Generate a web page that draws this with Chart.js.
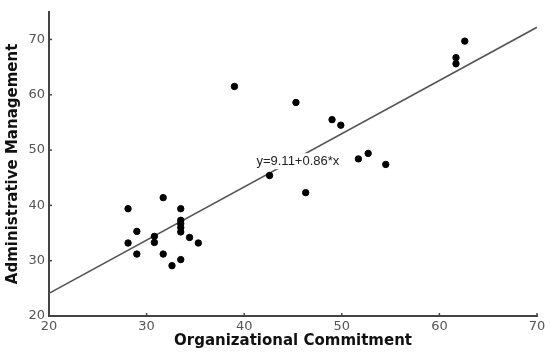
<!DOCTYPE html>
<html>
<head>
<meta charset="utf-8">
<script src="https://cdn.jsdelivr.net/npm/chart.js@4"></script>
<style>
  html, body { margin: 0; padding: 0; background: #fff; }
  #wrap { width: 550px; height: 354px; }
</style>
</head>
<body>
<div id="wrap"><canvas id="scatterChart"></canvas></div>
<script>
// values
const commitment = [28.1, 31.7, 33.5, 33.5, 33.5, 33.5, 33.5, 29.0, 30.8, 30.8, 28.1, 34.4, 35.3, 29.0, 31.7, 32.6, 33.5,
                    39.0, 45.3, 49.0, 49.9, 42.6, 46.3, 51.7, 52.7, 54.5, 62.6, 61.7, 61.7];
const management = [39.4, 41.4, 39.4, 37.3, 36.7, 36.0, 35.2, 35.3, 34.4, 33.3, 33.2, 34.2, 33.2, 31.2, 31.2, 29.1, 30.2,
                    61.5, 58.6, 55.5, 54.5, 45.4, 42.3, 48.4, 49.4, 47.4, 69.7, 66.7, 65.6];
// fitted line as drawn (end points)
const fitX = [20, 70];
const fitY = [24.1, 72.2];
const xTicks = [20, 30, 40, 50, 60, 70];
const yTicks = [20, 30, 40, 50, 60, 70];
const equation = 'y=9.11+0.86*x';

// small inward tick marks + equation label
const extras = {
  id: 'extras',
  afterDatasetsDraw(chart) {
    const ctx = chart.ctx;
    const xs = chart.scales.x, ys = chart.scales.y;
    ctx.save();
    ctx.strokeStyle = '#444';
    ctx.lineWidth = 1.5;
    xTicks.forEach(function(v) {
      const px = xs.getPixelForValue(v);
      ctx.beginPath();
      ctx.moveTo(px, ys.bottom);
      ctx.lineTo(px, ys.bottom - 3);
      ctx.stroke();
    });
    yTicks.forEach(function(v) {
      const py = ys.getPixelForValue(v);
      ctx.beginPath();
      ctx.moveTo(xs.left, py);
      ctx.lineTo(xs.left + 3, py);
      ctx.stroke();
    });
    ctx.font = '13px "Liberation Sans", Arial, sans-serif';
    ctx.textAlign = 'center';
    ctx.textBaseline = 'middle';
    const tx = xs.getPixelForValue(45.5), ty = ys.getPixelForValue(48.0);
    const w = ctx.measureText(equation).width;
    ctx.fillStyle = '#fff';
    ctx.fillRect(tx - w / 2 - 2, ty - 8, w + 4, 16);
    ctx.fillStyle = '#222';
    ctx.fillText(equation, tx, ty);
    ctx.restore();
  }
};

const ctx = document.getElementById('scatterChart').getContext('2d');
const myChart = new Chart(ctx, {
  type: 'scatter',
  data: {
    datasets: [{
      label: 'data',
      data: commitment.map((x, i) => ({ x: x, y: management[i] })),
      backgroundColor: '#000',
      borderColor: '#000',
      pointRadius: 3.2,
      order: 1
    }, {
      type: 'line',
      label: 'fit',
      data: fitX.map((x, i) => ({ x: x, y: fitY[i] })),
      borderColor: '#555',
      borderWidth: 1.6,
      pointRadius: 0,
      fill: false,
      order: 2
    }]
  },
  options: {
    responsive: true,
    maintainAspectRatio: false,
    animation: false,
    layout: { padding: { top: 10, right: 13, left: 4, bottom: 4 } },
    plugins: { legend: { display: false }, tooltip: { enabled: false } },
    scales: {
      x: {
        type: 'linear',
        min: 20, max: 70,
        afterBuildTicks: s => { s.ticks = xTicks.map(v => ({ value: v })); },
        afterFit: s => { s.height = 34; },
        grid: { display: false, drawTicks: false },
        border: { display: true, color: '#444', width: 2 },
        ticks: { padding: 3, color: '#555', font: { family: 'DejaVu Sans', size: 13 } },
        title: {
          display: true,
          text: 'Organizational Commitment',
          color: '#111',
          padding: { top: 0, bottom: 0 },
          font: { family: 'DejaVu Sans', size: 15, weight: 'bold' }
        }
      },
      y: {
        type: 'linear',
        min: 20, max: 75,
        afterBuildTicks: s => { s.ticks = yTicks.map(v => ({ value: v })); },
        afterFit: s => { s.width = 45; },
        grid: { display: false, drawTicks: false },
        border: { display: true, color: '#444', width: 2 },
        ticks: { padding: 4, color: '#555', font: { family: 'DejaVu Sans', size: 13 } },
        title: {
          display: true,
          text: 'Administrative Management',
          color: '#111',
          padding: { top: 0, bottom: 0 },
          font: { family: 'DejaVu Sans', size: 15, weight: 'bold' }
        }
      }
    }
  },
  plugins: [extras]
});
</script>
</body>
</html>
